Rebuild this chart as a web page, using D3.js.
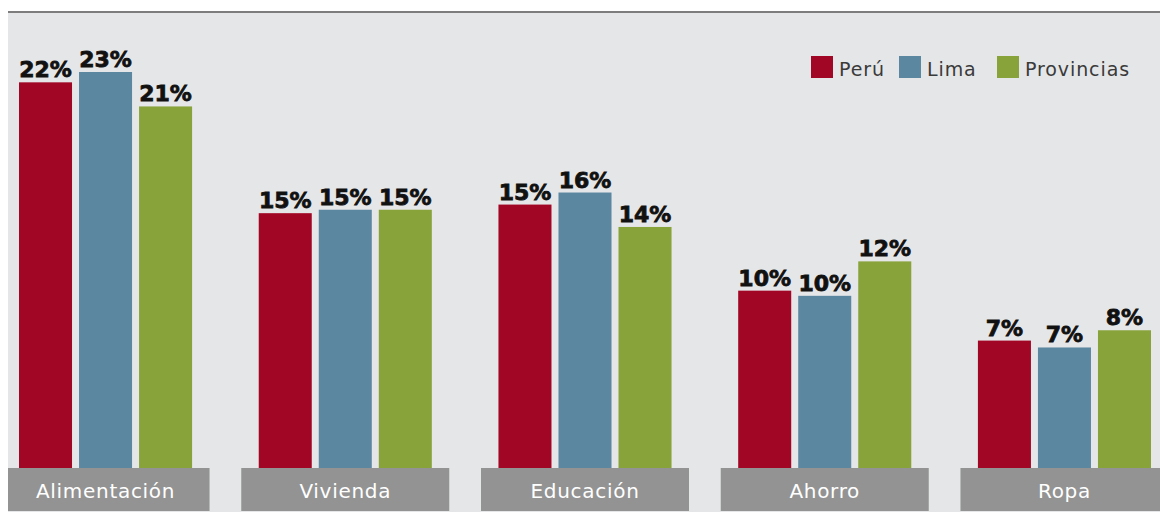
<!DOCTYPE html>
<html>
<head>
    <meta charset="utf-8">
    <title>Gastos por rubro</title>
    <style>
        body { margin: 0; background: #ffffff; }
        .value { font-family: "DejaVu Sans", sans-serif; font-weight: bold; font-size: 22px; fill: #111; stroke: #111; stroke-width: 0.8px; }
        .cat { font-family: "DejaVu Sans", sans-serif; font-size: 20px; fill: #ffffff; letter-spacing: 0.7px; }
        .legend { font-family: "DejaVu Sans", sans-serif; font-size: 19px; fill: #3a3a3a; letter-spacing: 0.9px; }
    </style>
    <script src="https://d3js.org/d3.v7.min.js"></script>
</head>
<body>
    <svg width="1160" height="512"></svg>
    <script>
        const categories = ["Alimentación", "Vivienda", "Educación", "Ahorro", "Ropa"];
        const seriesNames = ["Perú", "Lima", "Provincias"];
        const peru = [22.4, 14.8, 15.3, 10.3, 7.4];
        const lima = [23.0, 15.0, 16.0, 10.0, 7.0];
        const provincias = [21.0, 15.0, 14.0, 12.0, 8.0];
        const colors = ["#a10624", "#5b87a1", "#88a33a"];

        const seriesValues = [peru, lima, provincias];
        const rows = categories.map((c, i) => ({
            cat: c,
            vals: seriesNames.map((s, j) => ({ name: s, value: seriesValues[j][i] }))
        }));

        const svg = d3.select("svg");
        const width = +svg.attr("width");
        const height = +svg.attr("height");

        const panelLeft = 8, panelTop = 12;
        const baseY = 468;

        // panel background and top rule
        svg.append("rect")
            .attr("x", panelLeft).attr("y", panelTop)
            .attr("width", width - panelLeft).attr("height", height - panelTop)
            .attr("fill", "#e5e6e8");
        svg.append("line")
            .attr("x1", panelLeft).attr("x2", width)
            .attr("y1", panelTop).attr("y2", panelTop)
            .attr("stroke", "#7d7d7d").attr("stroke-width", 2);

        const x0 = d3.scaleBand().domain(categories).range([19, 1151]).paddingInner(0.278);
        const x1 = d3.scaleBand().domain(seriesNames).range([0, x0.bandwidth()]).paddingInner(0.1167);
        const y = d3.scaleLinear().domain([0, 23]).range([baseY, 72]);
        const color = d3.scaleOrdinal().domain(seriesNames).range(colors);

        svg.append("clipPath").attr("id", "panel")
            .append("rect").attr("x", panelLeft).attr("y", 0).attr("width", width - panelLeft).attr("height", height);

        const groups = svg.selectAll(".group")
            .data(rows)
            .enter()
            .append("g")
            .attr("class", "group")
            .attr("transform", d => `translate(${x0(d.cat)},0)`);

        // Draw bars
        groups.selectAll("rect")
            .data(d => d.vals)
            .enter()
            .append("rect")
            .attr("x", d => x1(d.name))
            .attr("y", d => y(d.value))
            .attr("width", x1.bandwidth())
            .attr("height", d => baseY - y(d.value))
            .attr("fill", d => color(d.name));

        // Value labels
        groups.selectAll(".value")
            .data(d => d.vals)
            .enter()
            .append("text")
            .attr("class", "value")
            .attr("x", d => x1(d.name) + x1.bandwidth() / 2)
            .attr("y", d => y(d.value) - 5)
            .attr("text-anchor", "middle")
            .text(d => Math.round(d.value) + "%");

        // Category boxes
        const boxW = 208;
        const boxes = svg.append("g").attr("clip-path", "url(#panel)");
        boxes.selectAll("rect")
            .data(categories)
            .enter()
            .append("rect")
            .attr("x", d => x0(d) + x0.bandwidth() / 2 - boxW / 2)
            .attr("y", baseY)
            .attr("width", boxW)
            .attr("height", 43)
            .attr("fill", "#939393");
        boxes.selectAll(".cat")
            .data(categories)
            .enter()
            .append("text")
            .attr("class", "cat")
            .attr("x", d => x0(d) + x0.bandwidth() / 2)
            .attr("y", 498)
            .attr("text-anchor", "middle")
            .text(d => d);

        // Legend
        const legendX = [811, 899, 997];
        const legend = svg.selectAll(".leg")
            .data(seriesNames)
            .enter()
            .append("g")
            .attr("class", "leg")
            .attr("transform", (d, i) => `translate(${legendX[i]},56)`);
        legend.append("rect")
            .attr("width", 22).attr("height", 22)
            .attr("fill", d => color(d));
        legend.append("text")
            .attr("class", "legend")
            .attr("x", 28).attr("y", 20)
            .text(d => d);
    </script>
</body>
</html>
